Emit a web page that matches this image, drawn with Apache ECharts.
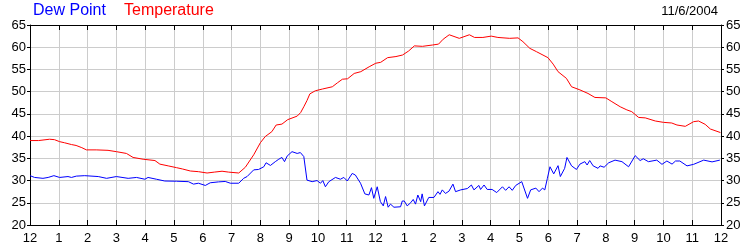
<!DOCTYPE html>
<html>
<head>
<meta charset="utf-8">
<script src="https://cdn.jsdelivr.net/npm/echarts@6/dist/echarts.min.js"></script>
<style>
html,body{margin:0;padding:0;background:#fff;}
#c{width:750px;height:250px;}
</style>
</head>
<body>
<div id="c"></div>
<script>
// Hour labels for the 24-hour x axis (0..24)
var hourLabels = ["12","1","2","3","4","5","6","7","8","9","10","11","12","1","2","3","4","5","6","7","8","9","10","11","12"];
var yTicks = [20,25,30,35,40,45,50,55,60,65];

// Temperature (hours since midnight, °F)
var tempHours = [0,0.3,0.68,0.85,1.03,1.2,1.44,1.6,1.8,1.96,2.3,2.71,3.0,3.35,3.58,3.93,4.34,4.51,4.8,5.09,5.3,5.57,5.85,6.15,6.4,6.67,6.9,7.25,7.48,7.77,8.0,8.17,8.4,8.55,8.75,8.95,9.28,9.4,9.51,9.62,9.72,9.91,10.16,10.5,10.68,10.85,11.03,11.26,11.49,11.78,12.01,12.18,12.42,12.71,12.94,13.15,13.35,13.63,13.98,14.19,14.35,14.56,14.91,15.26,15.44,15.73,16.02,16.25,16.66,16.95,17.12,17.36,17.59,17.99,18.17,18.34,18.63,18.81,19.1,19.38,19.62,20.0,20.21,20.5,20.73,20.9,21.14,21.37,21.72,22.0,22.29,22.47,22.76,23.05,23.22,23.45,23.63,23.98];
var tempValues = [39.0,39.0,39.3,39.2,38.75,38.5,38.1,37.9,37.4,36.9,36.9,36.8,36.5,36.1,35.2,34.8,34.5,33.7,33.3,32.9,32.6,32.15,32.0,31.7,31.9,32.1,31.9,31.7,33.0,35.8,38.5,39.9,41.0,42.5,42.7,43.7,44.5,45.3,46.6,48.0,49.5,50.2,50.6,51.1,52.0,52.8,52.9,54.1,54.5,55.6,56.4,56.6,57.65,57.9,58.25,59.15,60.3,60.2,60.5,60.7,61.8,62.8,62.0,62.8,62.2,62.2,62.5,62.2,62.0,62.1,61.25,59.75,59.0,57.65,56.2,54.5,53.0,51.1,50.4,49.6,48.7,48.6,47.75,46.6,45.9,45.5,44.2,44.1,43.4,43.1,42.95,42.5,42.2,43.25,43.4,42.65,41.6,40.8];

// Dew point (hours since midnight, °F)
var dewHours = [0,0.16,0.45,0.63,0.83,1.03,1.32,1.44,1.61,1.9,2.37,2.66,3.0,3.41,3.7,3.99,4.1,4.39,4.68,5.09,5.5,5.68,5.85,6.09,6.26,6.55,6.78,6.96,7.25,7.42,7.54,7.77,7.94,8.12,8.2,8.35,8.52,8.64,8.75,8.84,8.93,9.1,9.28,9.39,9.51,9.62,9.8,9.97,10.09,10.17,10.26,10.38,10.61,10.78,10.9,11.02,11.19,11.3,11.48,11.63,11.77,11.86,11.94,12.06,12.17,12.27,12.35,12.44,12.52,12.64,12.87,12.93,13.0,13.1,13.22,13.31,13.39,13.47,13.57,13.62,13.7,13.85,14.03,14.17,14.24,14.32,14.43,14.55,14.69,14.78,14.96,15.19,15.33,15.42,15.59,15.65,15.77,15.88,16.05,16.21,16.41,16.52,16.64,16.75,16.87,17.08,17.28,17.39,17.57,17.68,17.8,17.88,17.97,18.06,18.11,18.19,18.34,18.42,18.57,18.65,18.71,18.81,18.98,19.1,19.27,19.35,19.44,19.56,19.73,19.8,19.94,20.1,20.32,20.56,20.79,21.02,21.19,21.3,21.48,21.77,21.95,22.12,22.3,22.42,22.57,22.82,23.05,23.4,23.69,23.96];
var dewValues = [31.1,30.7,30.5,30.7,31.1,30.7,30.9,30.7,31.0,31.1,30.9,30.5,30.9,30.5,30.7,30.3,30.7,30.3,29.9,29.85,29.75,29.2,29.4,28.9,29.5,29.7,29.8,29.4,29.4,30.5,30.9,32.4,32.5,33.1,34.0,33.4,34.25,34.8,35.2,34.25,35.5,36.5,36.1,36.3,35.4,30.1,29.75,30.0,29.4,30.0,28.6,29.75,30.7,30.3,30.7,29.9,31.6,31.25,29.4,27.0,26.75,28.4,26.0,28.6,25.25,24.3,26.4,24.0,24.7,24.0,24.1,25.4,25.4,24.3,25.0,25.75,24.7,26.75,25.25,27.0,24.3,26.2,26.2,27.5,26.9,27.9,27.1,27.6,29.2,27.5,27.9,28.2,29.0,27.9,28.9,28.0,29.0,28.0,28.0,27.3,28.6,27.8,28.6,27.8,28.9,29.75,26.0,27.9,28.3,27.5,28.3,27.9,30.5,33.1,33.3,31.5,33.35,30.9,32.75,35.2,35.3,33.3,32.5,33.7,34.25,33.5,34.5,33.3,32.75,33.3,33.0,34.0,34.6,34.25,33.1,35.6,34.5,34.9,34.25,34.6,33.65,34.4,33.7,34.4,34.4,33.3,33.65,34.6,34.2,34.6];

var dateText = "11/6/2004";

function pairs(xs, ys){ var out=[]; for(var i=0;i<xs.length;i++){ out.push([xs[i], ys[i]]); } return out; }

var chart = echarts.init(document.getElementById('c'), null, {renderer:'canvas'});
var axisFont = {fontFamily:'Liberation Sans, Arial, sans-serif', fontSize:13, color:'#000'};
var gridColor = '#cccccc';
chart.setOption({
  animation:false,
  backgroundColor:'#fff',
  title:[
    {text:'Dew Point', left:33, top:3, padding:0, textStyle:{color:'#0000ff', fontFamily:'Liberation Sans, Arial, sans-serif', fontSize:16, fontWeight:'normal', lineHeight:16}},
    {text:'Temperature', left:124, top:3, padding:0, textStyle:{color:'#ff0000', fontFamily:'Liberation Sans, Arial, sans-serif', fontSize:16, fontWeight:'normal', lineHeight:16}},
    {text:dateText, right:32, top:5, padding:0, textStyle:{color:'#000', fontFamily:'Liberation Sans, Arial, sans-serif', fontSize:13, fontWeight:'normal', lineHeight:13}}
  ],
  grid:{left:30, right:29, top:25, bottom:25, show:false},
  xAxis:[
    {type:'value', position:'bottom', min:0, max:24, interval:1,
     axisLine:{show:true, onZero:false, lineStyle:{color:'#000', width:1}},
     axisTick:{show:true, inside:true, length:5, lineStyle:{color:'#000'}},
     axisLabel:Object.assign({margin:7, formatter:function(v){ return hourLabels[Math.round(v)]; }}, axisFont),
     splitLine:{show:true, lineStyle:{color:gridColor, width:1}}},
    {type:'value', position:'top', min:0, max:24, interval:1,
     axisLine:{show:true, onZero:false, lineStyle:{color:'#000', width:1}},
     axisTick:{show:true, inside:true, length:5, lineStyle:{color:'#000'}},
     axisLabel:{show:false}, splitLine:{show:false}}
  ],
  yAxis:[
    {type:'value', position:'left', min:20, max:65, interval:5,
     axisLine:{show:true, onZero:false, lineStyle:{color:'#000', width:1}},
     axisTick:{show:true, inside:false, length:3, lineStyle:{color:'#000'}},
     axisLabel:Object.assign({margin:4, formatter:function(v){ return yTicks.indexOf(v)>=0 ? String(v) : ''; }}, axisFont),
     splitLine:{show:true, lineStyle:{color:gridColor, width:1}}},
    {type:'value', position:'right', min:20, max:65, interval:5,
     axisLine:{show:true, onZero:false, lineStyle:{color:'#000', width:1}},
     axisTick:{show:true, inside:false, length:3, lineStyle:{color:'#000'}},
     axisLabel:Object.assign({margin:5, formatter:function(v){ return yTicks.indexOf(v)>=0 ? String(v) : ''; }}, axisFont),
     splitLine:{show:false}}
  ],
  series:[
    {name:'Temperature', type:'line', xAxisIndex:0, yAxisIndex:0, data:pairs(tempHours,tempValues), showSymbol:false, symbol:'none', lineStyle:{color:'#ff0000', width:1}, itemStyle:{color:'#ff0000'}, z:3},
    {name:'Dew Point', type:'line', xAxisIndex:0, yAxisIndex:0, data:pairs(dewHours,dewValues), showSymbol:false, symbol:'none', lineStyle:{color:'#0000ff', width:1}, itemStyle:{color:'#0000ff'}, z:4}
  ]
});
</script>
</body>
</html>
